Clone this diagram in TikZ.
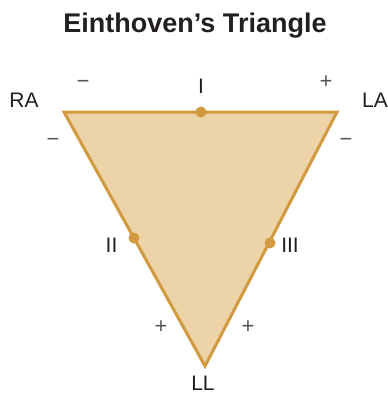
\documentclass[tikz,border=0pt]{standalone}
\usepackage{fontspec}
\setmainfont{Liberation Sans}
\definecolor{trifill}{HTML}{EDD3A8}
\definecolor{tristroke}{HTML}{D29A3E}
\definecolor{labeltext}{HTML}{231F20}
\definecolor{signtext}{HTML}{555555}
\begin{document}
\begin{tikzpicture}[x=1pt,y=-1pt,
  lead/.style={font=\fontsize{21}{21}\selectfont, text=labeltext, anchor=base, inner sep=0pt},
  sign/.style={font=\fontsize{22}{22}\selectfont, text=signtext, inner sep=0pt},
  leaddot/.style={circle, fill=tristroke, minimum size=11pt, inner sep=0pt},
  tri/.style={fill=trifill, draw=tristroke, line width=3pt, line join=miter}
]
\useasboundingbox (0,0) rectangle (388,394);
\coordinate (ra) at (64,112);
\coordinate (la) at (337,112);
\coordinate (ll) at (205,366);
\draw[tri] (ra) -- (la) -- (ll) -- cycle;
\node[leaddot] (d1) at (201,112) {};
\node[leaddot] (d2) at (134,238) {};
\node[leaddot] (d3) at (270,243) {};
\node[font=\bfseries\fontsize{27}{27}\selectfont, text=labeltext, anchor=base, inner sep=0pt] (title) at (195,32) {Einthoven’s Triangle};
\node[lead] (lra) at (24,107) {RA};
\node[lead] (lla) at (375,107) {LA};
\node[lead] (lll) at (203,390) {LL};
\node[lead] (l1) at (201,93) {I};
\node[lead] (l2) at (111.5,252) {II};
\node[lead] (l3) at (290,252) {III};
\node[sign] (s1) at (83,84) {−};
\node[sign] (s2) at (326,82) {+};
\node[sign] (s3) at (53,142) {−};
\node[sign] (s4) at (346,142) {−};
\node[sign] (s5) at (161,327) {+};
\node[sign] (s6) at (248,327) {+};
\end{tikzpicture}
\end{document}
